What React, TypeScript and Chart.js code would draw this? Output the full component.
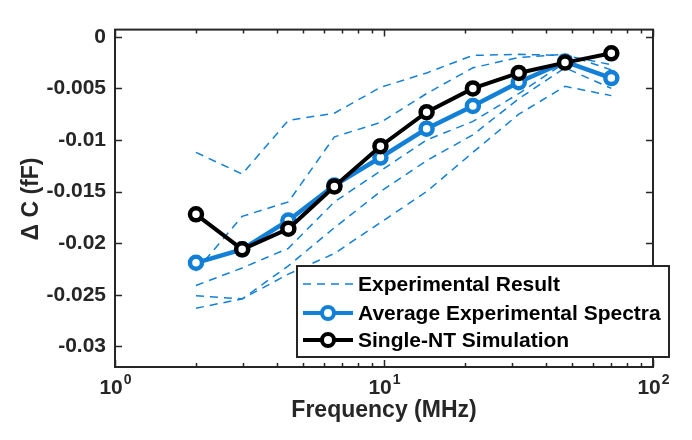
import { useEffect, useRef } from 'react';
import { Chart, registerables } from 'chart.js';

Chart.register(...registerables);

// ---- data ----
const frequencies = [2, 2.97, 4.41, 6.54, 9.7, 14.4, 21.4, 31.7, 47.1, 70];
const averageSpectra = [-0.0219, -0.0206, -0.0178, -0.0144, -0.0117, -0.0089, -0.0067, -0.0044, -0.0024, -0.004];
const singleNT = [-0.0172, -0.0206, -0.0186, -0.0145, -0.0106, -0.0073, -0.005, -0.0035, -0.0025, -0.0016];
const expRunA = [-0.0112, -0.0133, -0.0081, -0.0074, -0.0049, -0.0035, -0.0018, -0.0017, -0.0018, -0.0027];
const expRunB = [-0.0227, -0.0174, -0.016, -0.0097, -0.0083, -0.0055, -0.003, -0.002, -0.0017, -0.0032];
const expRunC = [-0.0241, -0.0224, -0.0205, -0.016, -0.013, -0.01, -0.0082, -0.0055, -0.0025, -0.004];
const expRunD = [-0.0251, -0.0254, -0.0222, -0.0185, -0.015, -0.012, -0.0095, -0.006, -0.003, -0.005];
const expRunE = [-0.0263, -0.0254, -0.023, -0.021, -0.018, -0.015, -0.0112, -0.0075, -0.0048, -0.0057];
const experimentalRuns = [expRunA, expRunB, expRunC, expRunD, expRunE];

const yTickValues = [0, -0.005, -0.01, -0.015, -0.02, -0.025, -0.03];
const xMajorTicks = [1, 10, 100];
const xMajorExponents = ['0', '1', '2'];
const xMinorTicks = [2, 3, 4, 5, 6, 7, 8, 9, 20, 30, 40, 50, 60, 70, 80, 90];
const legendLabels = ['Experimental Result', 'Average Experimental Spectra', 'Single-NT Simulation'];
const xTitle = 'Frequency (MHz)';
const yTitle = '\u0394 C (fF)';

const BLUE = '#1380d8';
const DARK = '#262626';
const FONT = '"Liberation Sans", Arial, Helvetica, sans-serif';

const toPoints = (ys: number[]) => frequencies.map((x, i) => ({ x, y: ys[i] }));

const framePlugin = {
  id: 'matlabFrame',
  afterDraw(chart: any) {
    const { ctx, chartArea } = chart;
    const { left, right, top, bottom } = chartArea;
    const xs = chart.scales.x;
    const ys = chart.scales.y;
    ctx.save();
    ctx.strokeStyle = DARK;
    ctx.lineWidth = 2;
    ctx.setLineDash([]);
    ctx.strokeRect(left, top, right - left, bottom - top);

    // y ticks (inside, both sides)
    ctx.lineWidth = 1.5;
    ctx.beginPath();
    yTickValues.forEach((v) => {
      const py = Math.round(ys.getPixelForValue(v)) + 0.5;
      ctx.moveTo(left, py);
      ctx.lineTo(left + 7, py);
      ctx.moveTo(right, py);
      ctx.lineTo(right - 7, py);
    });
    // x ticks
    xMajorTicks.forEach((v) => {
      const px = Math.round(xs.getPixelForValue(v)) + 0.5;
      ctx.moveTo(px, bottom);
      ctx.lineTo(px, bottom - 7);
      ctx.moveTo(px, top);
      ctx.lineTo(px, top + 7);
    });
    xMinorTicks.forEach((v) => {
      const px = Math.round(xs.getPixelForValue(v)) + 0.5;
      ctx.moveTo(px, bottom);
      ctx.lineTo(px, bottom - 4);
      ctx.moveTo(px, top);
      ctx.lineTo(px, top + 4);
    });
    ctx.stroke();

    // x tick labels 10^n
    ctx.fillStyle = DARK;
    ctx.textBaseline = 'alphabetic';
    ctx.textAlign = 'left';
    xMajorTicks.forEach((v, i) => {
      const px = xs.getPixelForValue(v);
      ctx.font = `bold 21px ${FONT}`;
      const wBase = ctx.measureText('10').width;
      ctx.font = `bold 14px ${FONT}`;
      const wExp = ctx.measureText(xMajorExponents[i]).width;
      const start = px - (wBase + wExp) / 2;
      ctx.font = `bold 21px ${FONT}`;
      ctx.fillText('10', start, 386);
      ctx.font = `bold 14px ${FONT}`;
      ctx.fillText(xMajorExponents[i], start + wBase + 1, 376);
    });

    // x title
    ctx.font = `bold 23px ${FONT}`;
    ctx.textAlign = 'center';
    ctx.textBaseline = 'middle';
    ctx.fillText(xTitle, (left + right) / 2, 403);

    // y title
    ctx.save();
    ctx.translate(24, 191);
    ctx.rotate(-Math.PI / 2);
    ctx.fillText(yTitle, 0, 0);
    ctx.restore();

    // legend
    const lx = 289, ly = 258, lw = 372, lh = 91;
    ctx.fillStyle = '#ffffff';
    ctx.fillRect(lx, ly, lw, lh);
    ctx.strokeStyle = DARK;
    ctx.lineWidth = 2;
    ctx.strokeRect(lx, ly, lw, lh);
    const rows = [276, 305, 332];
    const x0 = lx + 6, x1 = lx + 56;
    // row 1 dashed
    ctx.strokeStyle = BLUE;
    ctx.lineWidth = 1.5;
    ctx.setLineDash([8, 6]);
    ctx.beginPath();
    ctx.moveTo(x0, rows[0]);
    ctx.lineTo(x1, rows[0]);
    ctx.stroke();
    ctx.setLineDash([]);
    // rows 2, 3 with markers
    [BLUE, '#000000'].forEach((c, k) => {
      const ry = rows[k + 1];
      ctx.strokeStyle = c;
      ctx.lineWidth = 4;
      ctx.beginPath();
      ctx.moveTo(x0, ry);
      ctx.lineTo(x1, ry);
      ctx.stroke();
      ctx.fillStyle = '#ffffff';
      ctx.lineWidth = 4;
      ctx.beginPath();
      ctx.arc((x0 + x1) / 2, ry, 6, 0, Math.PI * 2);
      ctx.fill();
      ctx.stroke();
    });
    ctx.fillStyle = '#000000';
    ctx.font = `bold 21px ${FONT}`;
    ctx.textAlign = 'left';
    ctx.textBaseline = 'middle';
    legendLabels.forEach((t, k) => ctx.fillText(t, lx + 61, rows[k] + 1));
    ctx.restore();
  },
};

export default function App() {
  const ref = useRef<HTMLCanvasElement | null>(null);
  useEffect(() => {
    if (!ref.current) return;
    const datasets: any[] = [
      {
        label: legendLabels[2],
        data: toPoints(singleNT),
        borderColor: '#000000',
        borderWidth: 4,
        pointRadius: 6,
        pointBorderWidth: 4.5,
        pointBackgroundColor: '#ffffff',
        pointBorderColor: '#000000',
        tension: 0,
      },
      {
        label: legendLabels[1],
        data: toPoints(averageSpectra),
        borderColor: BLUE,
        borderWidth: 4.5,
        pointRadius: 6,
        pointBorderWidth: 4.5,
        pointBackgroundColor: '#ffffff',
        pointBorderColor: BLUE,
        tension: 0,
      },
      ...experimentalRuns.map((run, i) => ({
        label: `${legendLabels[0]} ${i + 1}`,
        data: toPoints(run),
        borderColor: BLUE,
        borderWidth: 1.5,
        borderDash: [8, 6],
        pointRadius: 0,
        tension: 0,
      })),
    ];
    const chart = new Chart(ref.current, {
      type: 'line',
      data: { datasets },
      options: {
        responsive: false,
        animation: false,
        layout: { padding: { top: 2, right: 31, left: 0, bottom: 0 } },
        plugins: { legend: { display: false }, tooltip: { enabled: false } },
        scales: {
          x: {
            type: 'logarithmic',
            min: 1,
            max: 100,
            ticks: { display: false },
            grid: { display: false, drawTicks: false },
            border: { display: false },
            afterFit: (s: any) => { s.height = 65; },
          },
          y: {
            type: 'linear',
            min: -0.032,
            max: 0.0007,
            afterBuildTicks: (s: any) => { s.ticks = yTickValues.map((v) => ({ value: v })); },
            ticks: {
              color: DARK,
              padding: 9,
              font: { family: FONT, size: 21, weight: 'bold' },
              callback: (v: any) => (Number(v) === 0 ? '0' : String(Number(Number(v).toFixed(3)))),
            },
            grid: { display: false, drawTicks: false },
            border: { display: false },
            afterFit: (s: any) => { s.width = 107; },
          },
        },
      } as any,
      plugins: [framePlugin],
    });
    return () => chart.destroy();
  }, []);
  return <canvas ref={ref} width={676} height={424} style={{ display: 'block' }} />;
}
